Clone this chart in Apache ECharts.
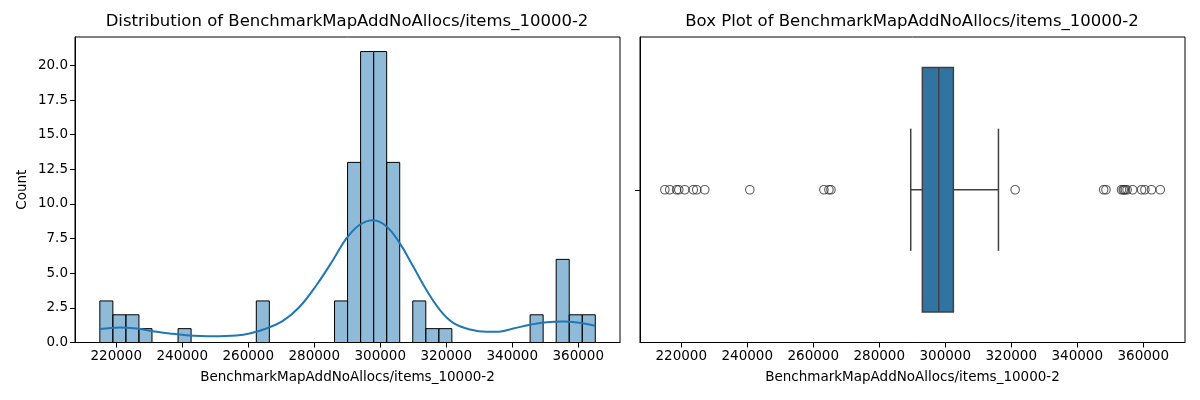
<!DOCTYPE html>
<html>
<head>
<meta charset="utf-8">
<script src="https://cdn.jsdelivr.net/npm/echarts@6/dist/echarts.min.js"></script>
<style>
  html, body { margin: 0; padding: 0; background: #fff; }
  #chart { width: 1200px; height: 400px; }
</style>
</head>
<body>
<div id="chart"></div>
<script>
// histogram: 38 bins starting at the sample minimum
const binStart = 215026;
const binWidth = 3951;
const binCounts = [3, 2, 2, 1, 0, 0, 1, 0, 0, 0, 0, 0, 3, 0, 0, 0, 0, 0, 3, 13,
                   21, 21, 13, 0, 3, 1, 1, 0, 0, 0, 0, 0, 0, 2, 0, 6, 2, 2];

// KDE curve
const kdeX = [215026, 221000, 226100, 231100, 236200, 241200, 249300, 256400, 260400, 265500,
              270500, 275600, 280700, 285700, 289800, 293800, 297800, 301900, 305900, 310000,
              314000, 318100, 322100, 327200, 332200, 335800, 340300, 345400, 350400, 355500,
              360500, 365160];
const kdeY = [0.97, 1.09, 1.01, 0.82, 0.65, 0.53, 0.46, 0.51, 0.65, 1.01,
              1.56, 2.58, 4.15, 5.96, 7.53, 8.50, 8.83, 8.38, 7.17, 5.48,
              3.79, 2.34, 1.42, 0.94, 0.77, 0.77, 1.01, 1.28, 1.47, 1.52,
              1.42, 1.21];

// box plot: lower whisker, q1, median, q3, upper whisker
const boxStats = [289540, 293060, 298030, 302460, 316120];
const outliers = [215026, 216500, 218600, 219250, 221050, 223650, 224700, 227130,
                  240780, 263230, 264750, 265360,
                  321180, 348000, 348700, 353400, 353900, 354200, 354600, 355100,
                  356800, 359500, 360500, 362500, 365160];

const yTicks = [0, 2.5, 5, 7.5, 10, 12.5, 15, 17.5, 20];
const xTicks = [220000, 240000, 260000, 280000, 300000, 320000, 340000, 360000];
const varName = 'BenchmarkMapAddNoAllocs/items_10000-2';

const FONT = 'DejaVu Sans';
const chart = echarts.init(document.getElementById('chart'), null, { renderer: 'canvas' });

const histData = [];
binCounts.forEach((c, i) => {
    if (c > 0) histData.push([binStart + i * binWidth, binStart + (i + 1) * binWidth, c]);
});

function xAxisCfg(gridIndex) {
    return {
        type: 'value', gridIndex: gridIndex,
        min: 207500, max: 372650,
        name: varName, nameLocation: 'middle', nameGap: 28,
        nameTextStyle: { fontFamily: FONT, fontSize: 13.5, color: '#000' },
        axisLine: { show: true, onZero: false, lineStyle: { color: '#000', width: 1 } },
        axisTick: { show: true, inside: false, length: 5, customValues: xTicks, lineStyle: { color: '#000' } },
        axisLabel: { customValues: xTicks, margin: 7, fontFamily: FONT, fontSize: 13.5, color: '#000',
                     formatter: v => String(v) },
        splitLine: { show: false }
    };
}

const option = {
    animation: false,
    backgroundColor: '#fff',
    title: [
        { text: 'Distribution of ' + varName, left: 347, top: 13, padding: 0, textAlign: 'center',
          textStyle: { fontFamily: FONT, fontSize: 16.5, fontWeight: 'normal', color: '#000' } },
        { text: 'Box Plot of ' + varName, left: 912, top: 13, padding: 0, textAlign: 'center',
          textStyle: { fontFamily: FONT, fontSize: 16.5, fontWeight: 'normal', color: '#000' } }
    ],
    grid: [
        { left: 75, right: 580, top: 37, bottom: 57.5, show: true, borderColor: '#000', borderWidth: 1, backgroundColor: 'transparent' },
        { left: 640, right: 15, top: 37, bottom: 57.5, show: true, borderColor: '#000', borderWidth: 1, backgroundColor: 'transparent' }
    ],
    xAxis: [xAxisCfg(0), xAxisCfg(1)],
    yAxis: [
        {
            type: 'value', gridIndex: 0, min: 0, max: 22.05,
            name: 'Count', nameLocation: 'middle', nameGap: 46, nameRotate: 90,
            nameTextStyle: { fontFamily: FONT, fontSize: 13.5, color: '#000' },
            axisLine: { show: true, lineStyle: { color: '#000', width: 1 } },
            axisTick: { show: true, inside: false, length: 5, customValues: yTicks, lineStyle: { color: '#000' } },
            axisLabel: { customValues: yTicks, margin: 7, fontFamily: FONT, fontSize: 13.5, color: '#000',
                         formatter: v => Number(v).toFixed(1) },
            splitLine: { show: false }
        },
        {
            type: 'value', gridIndex: 1, min: -0.5, max: 0.5,
            axisLine: { show: true, lineStyle: { color: '#000', width: 1 } },
            axisTick: { show: true, inside: false, length: 5, customValues: [0], lineStyle: { color: '#000' } },
            axisLabel: { show: false },
            splitLine: { show: false }
        }
    ],
    series: [
        {
            type: 'custom', xAxisIndex: 0, yAxisIndex: 0,
            data: histData,
            encode: { x: [0, 1], y: 2 },
            renderItem: function (params, api) {
                const p0 = api.coord([api.value(0), api.value(2)]);
                const p1 = api.coord([api.value(1), 0]);
                return {
                    type: 'rect',
                    shape: { x: p0[0], y: p0[1], width: p1[0] - p0[0], height: p1[1] - p0[1] },
                    style: { fill: 'rgba(31,119,180,0.5)', stroke: '#000', lineWidth: 1 }
                };
            },
            z: 2
        },
        {
            type: 'line', xAxisIndex: 0, yAxisIndex: 0,
            data: kdeX.map((x, i) => [x, kdeY[i]]),
            smooth: 0.4, showSymbol: false,
            lineStyle: { color: '#1f77b4', width: 2 },
            z: 3
        },
        {
            type: 'custom', xAxisIndex: 1, yAxisIndex: 1,
            data: [boxStats],
            encode: { x: [0, 1, 2, 3, 4] },
            renderItem: function (params, api) {
                const lw = api.value(0), q1 = api.value(1), med = api.value(2), q3 = api.value(3), hw = api.value(4);
                const a = api.coord([q1, 0.4]);
                const b = api.coord([q3, -0.4]);
                const m0 = api.coord([med, 0.4]);
                const m1 = api.coord([med, -0.4]);
                const l0 = api.coord([lw, 0]);
                const h0 = api.coord([hw, 0]);
                const capT = api.coord([lw, 0.2]);
                const capB = api.coord([lw, -0.2]);
                const capT2 = api.coord([hw, 0.2]);
                const capB2 = api.coord([hw, -0.2]);
                const ls = { stroke: '#404040', lineWidth: 1.5 };
                return {
                    type: 'group',
                    children: [
                        { type: 'line', shape: { x1: l0[0], y1: l0[1], x2: a[0], y2: l0[1] }, style: ls },
                        { type: 'line', shape: { x1: b[0], y1: h0[1], x2: h0[0], y2: h0[1] }, style: ls },
                        { type: 'line', shape: { x1: capT[0], y1: capT[1], x2: capB[0], y2: capB[1] }, style: ls },
                        { type: 'line', shape: { x1: capT2[0], y1: capT2[1], x2: capB2[0], y2: capB2[1] }, style: ls },
                        { type: 'rect', shape: { x: a[0], y: a[1], width: b[0] - a[0], height: b[1] - a[1] },
                          style: { fill: '#3274a1', stroke: '#404040', lineWidth: 1.5 } },
                        { type: 'line', shape: { x1: m0[0], y1: m0[1], x2: m1[0], y2: m1[1] }, style: ls }
                    ]
                };
            }
        },
        {
            type: 'scatter', xAxisIndex: 1, yAxisIndex: 1,
            data: outliers.map(v => [v, 0]),
            symbol: 'circle', symbolSize: 8.5,
            itemStyle: { color: 'rgba(0,0,0,0)', borderColor: '#333', borderWidth: 1.1 }
        }
    ]
};

chart.setOption(option);
</script>
</body>
</html>
